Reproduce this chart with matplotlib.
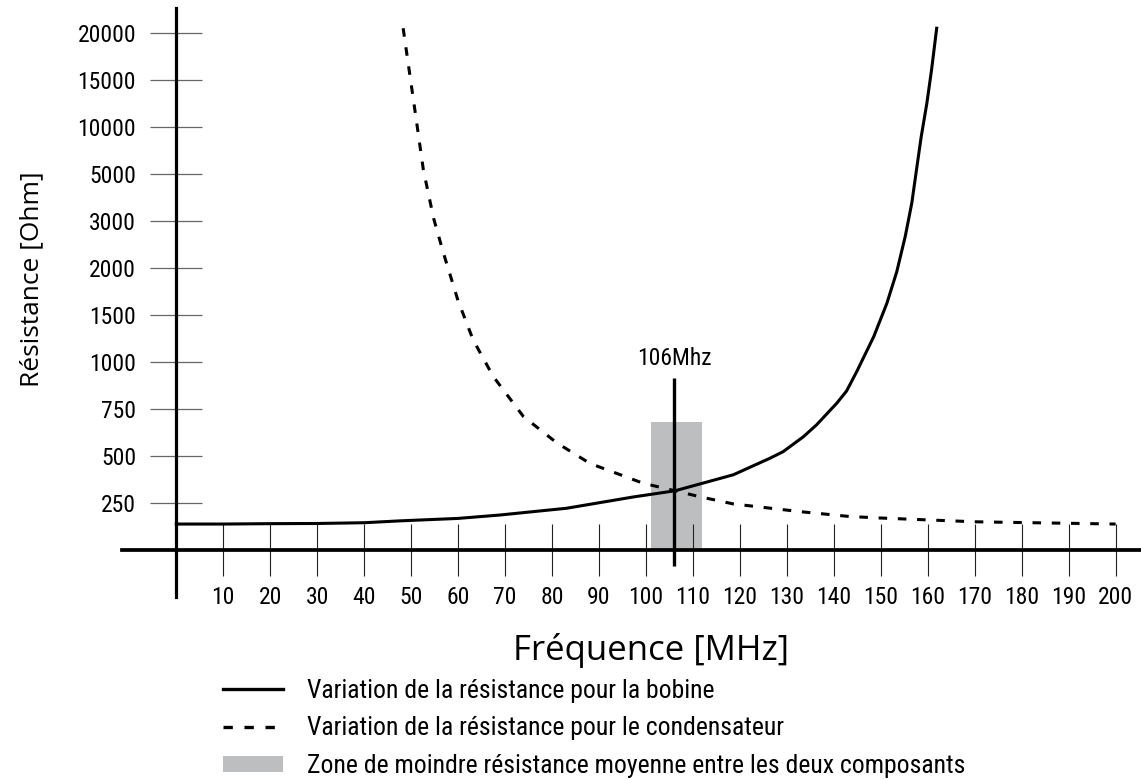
import os
import numpy as np
import matplotlib
matplotlib.use("Agg")
import matplotlib.pyplot as plt
from matplotlib import font_manager as fm
from matplotlib.lines import Line2D
from matplotlib.patches import Patch

# data
y_ticks = [250, 500, 750, 1000, 1500, 2000, 3000, 5000, 10000, 15000, 20000]
x_ticks = list(range(10, 201, 10))

freq_bobine = [0, 10, 20, 30, 40, 47.7, 60, 68.9, 83.1, 97.3, 106.2, 118.6, 126.4,
               129.2, 133.5, 136.3, 140.6, 142.7, 144.9, 148.5, 151.3, 153.4,
               155.2, 156.6, 157.6, 158.6, 159.8, 160.8, 161.9]
r_bobine = [138, 138, 140, 141, 145, 155, 168, 186, 222, 282, 315, 400, 488,
            523, 602, 665, 780, 845, 950, 1270, 1625, 1960,
            2670, 3760, 5450, 8950, 12500, 16050, 20500]

freq_cond = [48.3, 51.1, 52.6, 54.8, 56.9, 60, 63.2, 67.5, 73.9, 81, 88.1, 99.4,
             106.2, 111.5, 118.6, 132.8, 143.4, 150, 170, 200]
r_cond = [20500, 10750, 5450, 3100, 2310, 1650, 1235, 922, 710, 570, 460, 355,
          315, 283, 245, 204, 178, 170, 150, 138]

zone_start, zone_end, zone_top = 101, 112, 680
f_marker, marker_low, marker_high = 106, -85, 915

label_bobine = "Variation de la résistance pour la bobine"
label_cond = "Variation de la résistance pour le condensateur"
label_zone = "Zone de moindre résistance moyenne entre les deux composants"

# ticks are evenly spaced although the values are not -> piecewise scale
scale_vals = [-1000, 0] + y_ticks + [25000, 40000]
scale_idx = [-4, 0] + list(range(1, len(y_ticks) + 1)) + [12, 15]


def forward(v):
    return np.interp(v, scale_vals, scale_idx)


def inverse(i):
    return np.interp(i, scale_idx, scale_vals)


def narrow_font():
    # the original uses a condensed face, take whatever narrow one is there
    names = {f.name for f in fm.fontManager.ttflist}
    for n in ["Roboto Condensed", "Liberation Sans Narrow", "Open Sans Condensed",
              "Noto Sans Condensed", "DejaVu Sans Condensed"]:
        if n in names:
            return n
    bad = ["bold", "italic", "oblique", "light", "thin", "black", "medium",
           "semi", "extra", "heavy", "mono", "serif", "cjk"]
    for f in fm.fontManager.ttflist:
        base = os.path.basename(f.fname).lower()
        if ("condensed" in base or "narrow" in base) and not any(b in base for b in bad):
            return f.name
    return "Roboto"


narrow = [narrow_font(), "DejaVu Sans"]
wide = ["Open Sans", "DejaVu Sans"]
tick_size = 17
legend_size = 18.5

fig = plt.figure(figsize=(11.41, 7.80), dpi=100)
ax = fig.add_axes([122 / 1141, 183 / 780, 1019 / 1141, 589 / 780])
ax.set_yscale("function", functions=(forward, inverse))

ax.bar(zone_start, zone_top, width=zone_end - zone_start, align="edge",
       color="#bcbec0", zorder=1)
ax.plot(freq_bobine, r_bobine, color="black", lw=2.2, zorder=3)
ax.plot(freq_cond, r_cond, color="black", lw=2.2, linestyle=(0, (2.8, 3.5)),
        zorder=3)
ax.vlines(f_marker, marker_low, marker_high, color="black", lw=2.4, zorder=4)
ax.annotate(f"{f_marker}Mhz", (f_marker, marker_high), xytext=(0, 6),
            textcoords="offset points", ha="center", va="bottom",
            family=narrow, fontsize=tick_size)

ax.set_xlim(-11.56, 205.4)
ax.set_ylim(inverse(-1.0), inverse(11.53))

for s in ["top", "right"]:
    ax.spines[s].set_visible(False)
for s in ["left", "bottom"]:
    ax.spines[s].set_position(("data", 0))
    ax.spines[s].set_zorder(4)
ax.spines["left"].set_linewidth(2.3)
ax.spines["bottom"].set_linewidth(2.7)

ax.set_xticks(x_ticks)
ax.set_xticklabels([str(t) for t in x_ticks], family=narrow, fontsize=tick_size)
ax.set_yticks(y_ticks)
ax.set_yticklabels([str(t) for t in y_ticks], family=narrow, fontsize=tick_size)
ax.yaxis.set_minor_locator(matplotlib.ticker.NullLocator())
ax.tick_params(axis="x", direction="inout", length=38, width=0.8,
               color="#222222", pad=7)
ax.tick_params(axis="y", direction="inout", length=38, width=0.9,
               color="#666666", pad=10)

fig.text(651 / 1141, 1 - 650 / 780, "Fréquence [MHz]", ha="center",
         va="center", family=wide, fontsize=25)
fig.text(32 / 1141, 1 - 279 / 780, "Résistance [Ohm]", ha="center",
         va="center", rotation=90, family=wide, fontsize=19)

handles = [
    Line2D([], [], color="black", lw=2.4),
    Line2D([], [], color="black", lw=2.4, linestyle=(0, (2.8, 3.5))),
    Patch(facecolor="#bcbec0", edgecolor="none"),
]
fig.legend(handles, [label_bobine, label_cond, label_zone],
           loc="upper left", bbox_to_anchor=(223 / 1141, 1 - 679 / 780),
           frameon=False, borderpad=0, borderaxespad=0,
           handlelength=2.35, handleheight=0.6, handletextpad=0.9,
           labelspacing=0.52, prop={"family": narrow, "size": legend_size})

fig.savefig("out.png", dpi=100)
